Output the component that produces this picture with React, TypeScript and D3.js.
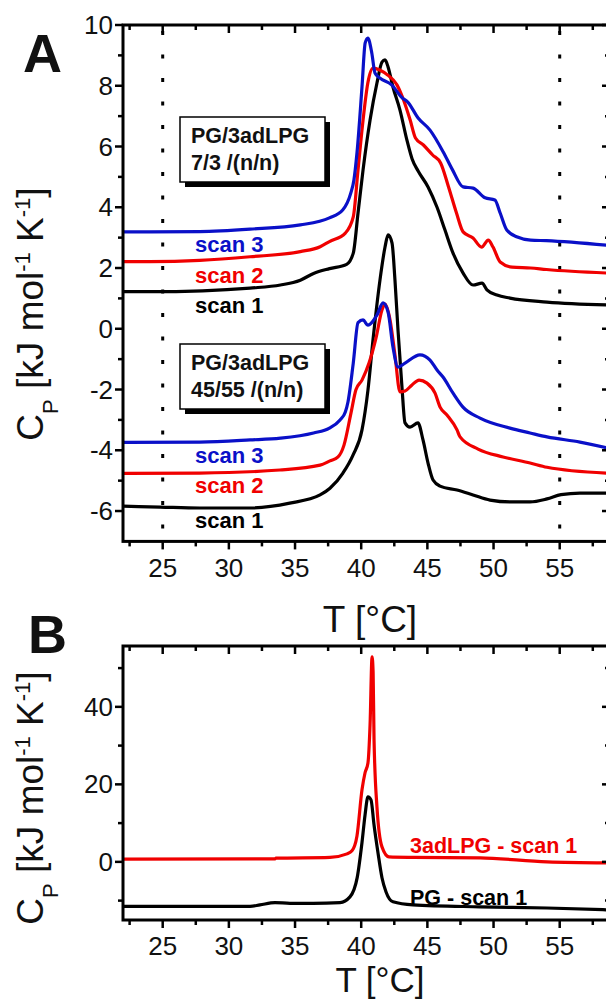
import React from "react";
import * as d3 from "d3";

type Pt = [number, number];

// ---------- data (T in °C, Cp in kJ mol-1 K-1, offset as plotted) ----------
const xTicks = [25, 30, 35, 40, 45, 50, 55];
const xMinor = [22.5, 27.5, 32.5, 37.5, 42.5, 47.5, 52.5, 57.5];
const yTicksA = [-6, -4, -2, 0, 2, 4, 6, 8, 10];
const yMinorA = [-5, -3, -1, 1, 3, 5, 7, 9];
const yTicksB = [0, 20, 40];
const yMinorB = [-10, 10, 30, 50];
const dottedT = [25, 55];

const scan3Top: Pt[] = [[22,3.19],[24,3.19],[27.8,3.2],[31.6,3.28],[35.4,3.42],[37.6,3.65],[38.6,3.91],[39.2,4.45],[39.45,4.9],[39.68,5.79],[40.06,7.96],[40.3,9.41],[40.5,9.57],[40.8,9.08],[41.04,8.42],[41.4,8.26],[42.3,8.03],[43.1,7.6],[43.5,7.47],[44.3,6.94],[45.2,6.54],[46.2,5.82],[46.9,5.23],[47.7,4.67],[48.45,4.63],[49.36,4.31],[50.1,4.24],[50.5,3.81],[51.0,3.25],[51.8,3.02],[52.8,2.92],[54.0,2.9],[58.8,2.74]];
const scan2Top: Pt[] = [[22,2.21],[24,2.21],[27.8,2.25],[31.6,2.37],[35.4,2.54],[36.9,2.7],[37.6,2.87],[38.8,3.15],[39.4,3.68],[39.76,5.23],[40.14,6.87],[40.5,8.09],[40.9,8.58],[41.4,8.52],[42.0,8.35],[42.7,8.03],[43.2,7.53],[43.7,6.87],[44.1,6.28],[44.7,6.05],[45.4,5.72],[46.0,5.46],[46.6,4.67],[47.2,3.81],[47.7,3.19],[48.45,2.99],[49.1,2.69],[49.6,2.92],[49.96,2.69],[50.5,2.2],[51.4,2.03],[52.8,2.0],[54.0,1.95],[58.8,1.83]];
const scan1Top: Pt[] = [[22,1.22],[24,1.22],[28,1.25],[31.6,1.34],[33.9,1.44],[35.4,1.6],[36.4,1.82],[37.6,1.98],[38.9,2.12],[39.4,2.49],[39.76,3.81],[40.14,5.23],[40.67,6.87],[41.19,8.09],[41.57,8.78],[41.8,8.85],[42.03,8.62],[42.4,7.96],[42.93,7.2],[43.46,6.2],[43.84,5.6],[44.29,5.2],[45.05,4.67],[45.73,4.0],[46.33,3.25],[46.94,2.49],[47.69,1.84],[48.45,1.44],[49.13,1.5],[49.5,1.28],[50.26,1.11],[51.24,1.01],[54.04,0.88],[58.8,0.78]];

const scan3Bot: Pt[] = [[22,-3.74],[27.8,-3.73],[31.6,-3.66],[33.9,-3.6],[36.4,-3.43],[37.6,-3.27],[38.4,-3.0],[38.8,-2.74],[39.0,-2.41],[39.4,-1.13],[39.76,0.2],[40.14,0.29],[40.5,0.12],[41.19,0.45],[41.65,0.85],[42.03,0.55],[42.4,-0.6],[42.78,-1.26],[43.31,-1.13],[44.44,-0.86],[45.2,-1.03],[45.73,-1.36],[46.18,-1.59],[46.94,-2.12],[47.69,-2.58],[48.98,-2.94],[51.24,-3.27],[52.76,-3.43],[54.04,-3.56],[56.53,-3.73],[58.8,-3.94]];
const scan2Bot: Pt[] = [[22,-4.76],[27.8,-4.75],[33.86,-4.65],[36.89,-4.49],[37.64,-4.35],[38.25,-4.22],[38.7,-3.83],[39.23,-2.77],[39.6,-2.01],[40.06,-1.69],[40.59,-1.13],[41.12,-0.3],[41.57,0.62],[41.8,0.81],[42.18,0.29],[42.55,-0.86],[42.93,-2.08],[43.31,-2.05],[43.84,-1.85],[44.37,-1.69],[44.97,-1.79],[45.58,-2.12],[45.96,-2.58],[46.48,-2.84],[47.24,-3.33],[47.47,-3.56],[48.83,-3.96],[50.72,-4.22],[52.76,-4.42],[54.04,-4.56],[58.8,-4.76]];
const scan1Bot: Pt[] = [[22,-5.84],[24.8,-5.87],[27.8,-5.9],[31.6,-5.9],[34.6,-5.74],[36.89,-5.47],[37.64,-5.25],[38.62,-4.75],[39.38,-4.16],[40.06,-3.33],[40.51,-2.02],[40.89,-0.37],[41.42,1.61],[41.8,2.69],[42.03,3.09],[42.33,2.82],[42.55,1.61],[42.78,-0.04],[43.08,-1.92],[43.31,-3.1],[43.69,-3.24],[44.29,-3.1],[44.67,-3.66],[45.05,-4.42],[45.43,-4.98],[45.96,-5.18],[47.24,-5.31],[48.45,-5.47],[49.73,-5.64],[51.24,-5.7],[52.76,-5.7],[54.04,-5.6],[55.1,-5.46],[56.53,-5.41],[58.8,-5.41]];

const lpgScan1: Pt[] = [[22,0.7],[33.49,0.77],[33.56,0.95],[37.64,1.16],[38.93,2.06],[39.3,2.84],[39.68,6.7],[40.06,18.6],[40.29,23.0],[40.51,25.5],[40.67,35.5],[40.82,52.9],[40.9,49.0],[40.97,31.5],[41.19,14.2],[41.57,3.87],[42.1,1.29],[43.91,1.16],[48.98,1.03],[54.04,0.0],[58.8,-0.26]];
const pgScan1: Pt[] = [[22,-11.5],[31.6,-11.5],[32.35,-11.1],[33.49,-10.5],[34.62,-10.7],[36.36,-10.7],[38.4,-10.5],[39.15,-9.03],[39.7,-4.0],[40.06,5.0],[40.29,12.1],[40.51,16.8],[40.74,16.0],[40.97,9.5],[41.27,2.3],[41.57,-4.1],[41.87,-7.7],[42.4,-10.3],[43.91,-11.1],[48.98,-11.6],[54.04,-11.9],[58.8,-12.4]];

const BLUE = "#0a10c8";
const RED = "#f00000";
const BLACK = "#000000";
const FONT = "'Liberation Sans', Arial, sans-serif";

const LEFT = 123;
const RIGHT = 610;

const x = d3.scaleLinear().domain([22, 58.8]).range([LEFT, RIGHT]);
const yA = d3.scaleLinear().domain([-7, 10]).range([541.4, 25]);
const yB = d3.scaleLinear().domain([-15, 55.7]).range([920, 646]);

function Frame({ y, yTicks, yMinor }: { y: d3.ScaleLinear<number, number>; yTicks: number[]; yMinor: number[] }) {
  const [bottom, top] = y.range();
  const MAJ = 8, MIN = 5;
  return (
    <g stroke={BLACK} strokeWidth={2.5}>
      {xTicks.map((t) => (
        <g key={"xm" + t}>
          <line x1={x(t)} x2={x(t)} y1={bottom} y2={bottom + MAJ} />
          <line x1={x(t)} x2={x(t)} y1={top} y2={top + MAJ} />
        </g>
      ))}
      {xMinor.map((t) => (
        <g key={"xn" + t}>
          <line x1={x(t)} x2={x(t)} y1={bottom} y2={bottom + MIN} />
          <line x1={x(t)} x2={x(t)} y1={top} y2={top + MIN} />
        </g>
      ))}
      {yTicks.map((t) => (
        <g key={"ym" + t}>
          <line x1={LEFT - MAJ} x2={LEFT} y1={y(t)} y2={y(t)} />
          <line x1={RIGHT - MAJ} x2={RIGHT} y1={y(t)} y2={y(t)} />
        </g>
      ))}
      {yMinor.map((t) => (
        <g key={"yn" + t}>
          <line x1={LEFT - MIN} x2={LEFT} y1={y(t)} y2={y(t)} />
          <line x1={RIGHT - MIN} x2={RIGHT} y1={y(t)} y2={y(t)} />
        </g>
      ))}
      <rect x={LEFT} y={top} width={RIGHT - LEFT} height={bottom - top} fill="none" strokeWidth={3} />
    </g>
  );
}

function TickLabels({ y, yTicks, xLabelY }: { y: d3.ScaleLinear<number, number>; yTicks: number[]; xLabelY: number }) {
  return (
    <g fontFamily={FONT} fontSize={26} fill="#111">
      {xTicks.map((t) => (
        <text key={"xl" + t} x={x(t)} y={xLabelY} textAnchor="middle">{t}</text>
      ))}
      {yTicks.map((t) => (
        <text key={"yl" + t} x={113} y={y(t) + 9} textAnchor="end">{t}</text>
      ))}
    </g>
  );
}

function YTitle({ cx, cy }: { cx: number; cy: number }) {
  return (
    <text transform={`translate(${cx},${cy}) rotate(-90)`} textAnchor="middle" fontFamily={FONT} fontSize={37} fill="#111">
      C
      <tspan fontSize={22} dy={15}>P</tspan>
      <tspan dy={-15}> [kJ mol</tspan>
      <tspan fontSize={22} dy={-13}>-1</tspan>
      <tspan dy={13}> K</tspan>
      <tspan fontSize={22} dy={-13}>-1</tspan>
      <tspan dy={13}>]</tspan>
    </text>
  );
}

function Box({ bx, by, lines }: { bx: number; by: number; lines: string[] }) {
  const w = 145, h = 65;
  return (
    <g>
      <rect x={bx + 5} y={by + 5} width={w} height={h} fill={BLACK} />
      <rect x={bx} y={by} width={w} height={h} fill="#fff" stroke={BLACK} strokeWidth={1.5} />
      {lines.map((l, i) => (
        <text key={i} x={bx + 11} y={by + 26 + i * 27} fontFamily={FONT} fontWeight="bold" fontSize={21.5} fill="#111">{l}</text>
      ))}
    </g>
  );
}

export default function App() {
  const lineA = d3.line<Pt>().x((d) => x(d[0])).y((d) => yA(d[1])).curve(d3.curveMonotoneX);
  const lineB = d3.line<Pt>().x((d) => x(d[0])).y((d) => yB(d[1])).curve(d3.curveMonotoneX);
  const [aBottom, aTop] = yA.range();

  const seriesA: { data: Pt[]; color: string }[] = [
    { data: scan1Top, color: BLACK },
    { data: scan2Top, color: RED },
    { data: scan3Top, color: BLUE },
    { data: scan1Bot, color: BLACK },
    { data: scan2Bot, color: RED },
    { data: scan3Bot, color: BLUE },
  ];

  const scanLabels = [
    { t: "scan 3", y: 252, c: BLUE },
    { t: "scan 2", y: 283, c: RED },
    { t: "scan 1", y: 313, c: BLACK },
    { t: "scan 3", y: 463, c: BLUE },
    { t: "scan 2", y: 493, c: RED },
    { t: "scan 1", y: 528, c: BLACK },
  ];

  return (
    <svg width={606} height={1000} style={{ position: "absolute", left: 0, top: 0, background: "#fff" }}>
      <rect x={0} y={0} width={606} height={1000} fill="#fff" />
      {/* Panel A */}
      {dottedT.map((t) => (
        <line key={"dot" + t} x1={x(t)} x2={x(t)} y1={aTop} y2={aBottom} stroke={BLACK} strokeWidth={3} strokeDasharray="4 19.5" strokeDashoffset={17.5} />
      ))}
      {seriesA.map((s, i) => (
        <path key={"a" + i} d={lineA(s.data) || ""} fill="none" stroke={s.color} strokeWidth={3.2} strokeLinejoin="round" />
      ))}
      <Frame y={yA} yTicks={yTicksA} yMinor={yMinorA} />
      <TickLabels y={yA} yTicks={yTicksA} xLabelY={577} />
      <Box bx={180} by={117} lines={["PG/3adLPG", "7/3 /(n/n)"]} />
      <Box bx={180} by={344} lines={["PG/3adLPG", "45/55 /(n/n)"]} />
      {scanLabels.map((l, i) => (
        <text key={"s" + i} x={195} y={l.y} fontFamily={FONT} fontWeight="bold" fontSize={22} fill={l.c}>{l.t}</text>
      ))}
      <text x={23} y={72} fontFamily={FONT} fontWeight="bold" fontSize={54} fill="#111">A</text>
      <YTitle cx={43} cy={314} />
      <text x={370} y={632} textAnchor="middle" fontFamily={FONT} fontSize={37} fill="#111">T [°C]</text>

      {/* Panel B */}
      <path d={lineB(pgScan1) || ""} fill="none" stroke={BLACK} strokeWidth={3.2} strokeLinejoin="round" />
      <path d={lineB(lpgScan1) || ""} fill="none" stroke={RED} strokeWidth={3.2} strokeLinejoin="round" />
      <Frame y={yB} yTicks={yTicksB} yMinor={yMinorB} />
      <TickLabels y={yB} yTicks={yTicksB} xLabelY={955} />
      <text x={410} y={853} fontFamily={FONT} fontWeight="bold" fontSize={21.5} fill={RED}>3adLPG - scan 1</text>
      <text x={410} y={905} fontFamily={FONT} fontWeight="bold" fontSize={21.5} fill={BLACK}>PG - scan 1</text>
      <text x={28} y={653} fontFamily={FONT} fontWeight="bold" fontSize={54} fill="#111">B</text>
      <YTitle cx={43} cy={798} />
      <text x={380} y={992} textAnchor="middle" fontFamily={FONT} fontSize={35} fill="#111">T [°C]</text>
    </svg>
  );
}
